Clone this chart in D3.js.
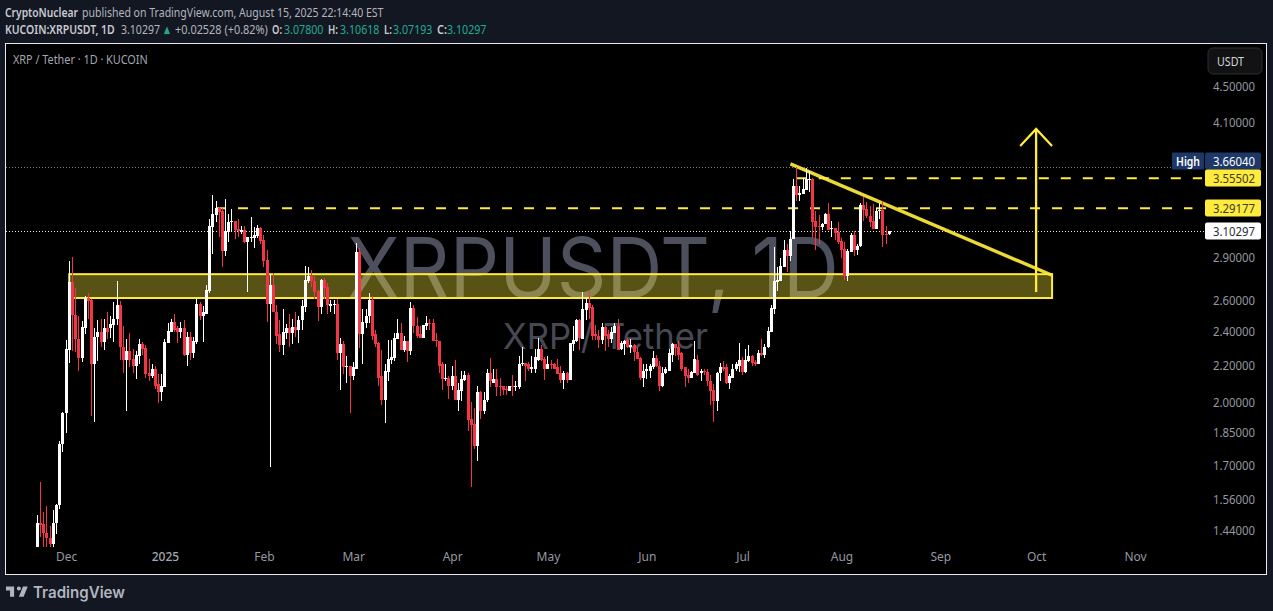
<!DOCTYPE html>
<html><head><meta charset="utf-8">
<script src="https://cdn.jsdelivr.net/npm/d3@7/dist/d3.min.js"></script>
<style>
html,body{margin:0;padding:0;background:#131722;overflow:hidden}
svg{display:block}
text{font-family:"Noto Sans",sans-serif}
</style></head><body>
<svg id="c" width="1273" height="611"></svg>
<script>
const startDay = "2024-11-22";
const endDay = "2025-08-16";
const opens = [
1.381,1.469,1.464,1.431,1.411,1.392,1.467,1.536,1.796,1.945,
2.288,2.722,2.505,2.355,2.240,2.419,2.615,2.599,2.206,2.369,
2.394,2.333,2.419,2.419,2.437,2.475,2.566,2.309,2.233,2.280,
2.238,2.194,2.256,2.321,2.298,2.155,2.138,2.182,2.095,2.052,
2.079,2.327,2.394,2.456,2.419,2.394,2.419,2.262,2.369,2.268,
2.333,2.572,2.494,2.513,2.660,3.136,3.235,3.293,3.268,2.948,
3.096,3.177,3.185,3.120,3.096,3.112,3.017,3.049,3.049,3.064,
3.128,3.033,2.881,2.572,2.701,2.526,2.382,2.315,2.388,2.419,
2.388,2.425,2.406,2.469,2.553,2.729,2.765,2.729,2.660,2.553,
2.736,2.688,2.559,2.566,2.572,2.268,2.321,2.194,2.199,2.138,
2.182,2.940,2.382,2.450,2.494,2.599,2.382,2.327,2.138,2.015,
2.165,2.233,2.244,2.351,2.388,2.286,2.339,2.280,2.546,2.431,
2.382,2.363,2.431,2.450,2.450,2.345,2.339,2.205,2.127,2.132,
2.084,2.138,2.015,2.058,2.121,2.144,1.919,1.895,1.790,2.052,
1.959,2.015,2.160,2.105,2.127,2.084,2.084,2.068,2.058,2.084,
2.079,2.079,2.210,2.216,2.205,2.177,2.182,2.233,2.292,2.238,
2.182,2.210,2.210,2.188,2.155,2.121,2.155,2.121,2.321,2.339,
2.469,2.351,2.533,2.579,2.553,2.382,2.375,2.345,2.425,2.382,
2.351,2.388,2.431,2.292,2.321,2.345,2.309,2.315,2.274,2.244,
2.132,2.171,2.171,2.188,2.244,2.199,2.089,2.155,2.171,2.262,
2.321,2.304,2.268,2.188,2.144,2.132,2.160,2.233,2.155,2.171,
2.165,2.116,2.063,2.010,2.155,2.188,2.188,2.100,2.132,2.177,
2.199,2.233,2.165,2.227,2.256,2.221,2.210,2.268,2.262,2.304,
2.394,2.540,2.722,2.729,2.830,2.955,2.910,3.041,3.485,3.404,
3.413,3.449,3.539,3.548,3.185,3.144,3.136,3.160,3.243,3.120,
3.128,3.096,3.025,2.963,2.765,2.940,3.072,2.955,2.986,3.318,
3.284,3.226,3.185,3.120,3.268,3.276,3.080,3.07800];
const highs = [
1.499,1.632,1.511,1.535,1.457,1.519,1.542,1.813,1.954,2.345,
2.874,2.903,2.683,2.494,2.463,2.626,2.646,2.606,2.419,2.469,
2.481,2.481,2.526,2.500,2.586,2.729,2.592,2.431,2.351,2.388,
2.292,2.280,2.351,2.333,2.315,2.238,2.205,2.199,2.149,2.149,
2.351,2.450,2.481,2.507,2.431,2.456,2.469,2.394,2.394,2.369,
2.606,2.586,2.559,2.701,3.201,3.404,3.352,3.301,3.293,3.369,
3.243,3.284,3.185,3.201,3.144,3.144,3.057,3.218,3.136,3.152,
3.136,3.072,2.955,2.780,2.787,2.566,2.469,2.540,2.444,2.507,
2.475,2.526,2.494,2.599,2.837,2.830,2.808,2.765,2.667,2.743,
2.750,2.715,2.599,2.599,2.606,2.363,2.339,2.256,2.199,2.221,
3.010,2.971,2.540,2.540,2.646,2.626,2.406,2.333,2.286,2.210,
2.345,2.345,2.388,2.475,2.450,2.375,2.339,2.586,2.566,2.488,
2.431,2.437,2.500,2.475,2.481,2.388,2.339,2.221,2.205,2.138,
2.199,2.233,2.105,2.171,2.171,2.160,2.005,1.974,2.089,2.058,
2.052,2.182,2.244,2.177,2.177,2.132,2.089,2.089,2.089,2.144,
2.116,2.256,2.304,2.216,2.221,2.256,2.292,2.357,2.315,2.250,
2.256,2.233,2.216,2.238,2.199,2.171,2.165,2.327,2.431,2.475,
2.481,2.653,2.613,2.653,2.566,2.437,2.406,2.450,2.431,2.406,
2.425,2.450,2.481,2.339,2.345,2.357,2.351,2.321,2.309,2.250,
2.205,2.205,2.205,2.280,2.262,2.227,2.188,2.188,2.292,2.327,
2.321,2.339,2.274,2.188,2.177,2.171,2.339,2.262,2.182,2.182,
2.177,2.144,2.095,2.165,2.216,2.227,2.210,2.149,2.205,2.221,
2.327,2.250,2.292,2.315,2.262,2.233,2.286,2.351,2.321,2.425,
2.566,2.978,2.830,2.896,3.033,3.002,3.104,3.548,3.660,3.485,
3.557,3.650,3.622,3.557,3.268,3.235,3.169,3.251,3.335,3.185,
3.128,3.177,3.049,3.017,2.963,3.088,3.104,3.002,3.335,3.387,
3.344,3.310,3.327,3.293,3.335,3.352,3.144,3.10618];
const lows = [
1.381,1.417,1.381,1.381,1.381,1.381,1.428,1.523,1.763,1.848,
2.212,2.280,2.276,2.171,2.221,2.382,2.481,1.934,1.901,2.227,
2.309,2.286,2.351,2.363,2.333,2.437,2.233,2.155,1.959,2.188,
2.160,2.127,2.210,2.262,2.132,2.111,2.132,2.068,1.996,2.010,
2.079,2.327,2.394,2.394,2.327,2.363,2.256,2.199,2.233,2.244,
2.321,2.469,2.333,2.513,2.646,2.925,3.177,3.057,2.830,2.910,
3.017,3.096,3.041,3.057,3.080,3.010,2.653,3.017,2.971,3.049,
3.002,2.830,2.456,1.696,2.520,2.321,2.274,2.262,2.351,2.309,
2.321,2.369,2.327,2.412,2.526,2.715,2.688,2.606,2.463,2.513,
2.606,2.507,2.520,2.513,2.233,2.063,2.149,2.105,1.949,2.121,
2.182,2.298,2.210,2.419,2.450,2.345,2.304,2.084,1.989,1.899,
2.111,2.210,2.227,2.351,2.286,2.274,2.221,2.262,2.388,2.357,
2.357,2.363,2.412,2.412,2.339,2.304,2.155,2.063,2.111,2.020,
2.063,2.015,1.959,2.010,2.116,1.861,1.611,1.776,1.719,1.919,
1.944,2.000,2.079,2.100,2.031,2.036,2.041,2.041,2.058,2.036,
2.058,2.073,2.199,2.116,2.171,2.160,2.160,2.227,2.227,2.121,
2.182,2.182,2.177,2.149,2.100,2.073,2.105,2.121,2.280,2.333,
2.286,2.351,2.469,2.475,2.345,2.345,2.298,2.321,2.280,2.309,
2.327,2.388,2.286,2.286,2.262,2.298,2.268,2.227,2.238,2.121,
2.079,2.127,2.132,2.182,2.188,2.058,2.079,2.149,2.171,2.221,
2.256,2.233,2.171,2.079,2.105,2.132,2.160,2.138,2.116,2.144,
2.084,1.989,1.904,1.959,2.116,2.171,2.095,2.068,2.132,2.171,
2.165,2.144,2.155,2.221,2.194,2.199,2.205,2.256,2.244,2.298,
2.394,2.513,2.660,2.729,2.830,2.794,2.873,3.041,3.352,3.352,
3.413,3.449,3.431,3.049,2.955,3.002,3.112,3.160,3.112,3.057,
3.033,3.002,2.896,2.736,2.729,2.940,2.910,2.918,2.978,3.185,
3.209,3.136,3.120,3.120,3.201,2.978,3.002,3.07193];
const closes = [
1.469,1.462,1.429,1.411,1.392,1.469,1.539,1.799,1.949,2.292,
2.722,2.503,2.355,2.240,2.425,2.613,2.594,2.206,2.369,2.394,
2.333,2.419,2.394,2.444,2.481,2.566,2.304,2.233,2.280,2.233,
2.194,2.262,2.321,2.292,2.149,2.138,2.182,2.089,2.052,2.084,
2.333,2.400,2.456,2.412,2.394,2.419,2.262,2.369,2.268,2.339,
2.572,2.494,2.520,2.667,3.144,3.243,3.293,3.259,2.948,3.104,
3.177,3.185,3.112,3.104,3.112,3.017,3.057,3.057,3.072,3.128,
3.025,2.873,2.572,2.701,2.520,2.375,2.315,2.394,2.419,2.388,
2.425,2.406,2.469,2.559,2.736,2.765,2.729,2.653,2.553,2.736,
2.681,2.566,2.572,2.572,2.268,2.321,2.188,2.199,2.138,2.188,
2.940,2.382,2.456,2.500,2.599,2.375,2.321,2.132,2.015,2.171,
2.238,2.250,2.357,2.388,2.286,2.339,2.280,2.546,2.431,2.375,
2.363,2.437,2.450,2.444,2.339,2.339,2.199,2.127,2.132,2.084,
2.138,2.015,2.063,2.127,2.144,1.914,1.890,1.790,2.052,1.959,
2.015,2.160,2.111,2.127,2.079,2.079,2.063,2.063,2.084,2.079,
2.084,2.210,2.216,2.199,2.177,2.188,2.250,2.292,2.233,2.182,
2.210,2.205,2.182,2.149,2.121,2.155,2.121,2.327,2.345,2.469,
2.357,2.540,2.579,2.546,2.375,2.375,2.345,2.425,2.375,2.351,
2.394,2.431,2.286,2.327,2.339,2.304,2.315,2.274,2.238,2.132,
2.171,2.177,2.194,2.244,2.194,2.089,2.160,2.177,2.268,2.321,
2.298,2.262,2.182,2.138,2.132,2.165,2.238,2.144,2.171,2.165,
2.111,2.058,2.010,2.160,2.188,2.182,2.100,2.138,2.182,2.205,
2.233,2.165,2.233,2.256,2.216,2.210,2.268,2.262,2.309,2.400,
2.546,2.729,2.736,2.837,2.955,2.910,3.041,3.485,3.404,3.422,
3.458,3.548,3.548,3.177,3.136,3.136,3.160,3.243,3.112,3.128,
3.088,3.017,2.955,2.765,2.948,3.072,2.955,2.986,3.318,3.276,
3.226,3.177,3.120,3.268,3.276,3.072,3.078,3.10297];

const priceTicks = [4.5,4.1,2.9,2.6,2.4,2.2,2.0,1.85,1.7,1.56,1.44];
const monthTicks = ["2024-12-01","2025-01-01","2025-02-01","2025-03-01","2025-04-01","2025-05-01","2025-06-01","2025-07-01","2025-08-01","2025-09-01","2025-10-01","2025-11-01"];
const highPrice = 3.6604, lastPrice = 3.10297;
const resistanceHigh = {price:3.55502, from:"2025-07-18", to:"2025-11-22"};
const resistanceLow = {price:3.29177, from:"2025-01-17", to:"2025-11-19"};
const zone = {top:2.780, bottom:2.615, from:"2024-12-02", to:"2025-10-06"};
const trend = {from:["2025-07-16",3.690], to:["2025-10-06",2.772]};
const arrowShaft = [["2025-10-01",2.655],["2025-10-01",4.035]];
const arrowHead = [["2025-09-26",3.863],["2025-10-01",4.035],["2025-10-06",3.863]];

const svg = d3.select("#c");
const parse = d3.utcParse("%Y-%m-%d");
const x = d3.scaleUtc().domain([parse(startDay),parse(endDay)]).range([37.33,889.33]);
const y = d3.scaleLog().domain([4.5,1.44]).range([86.5,530.5]);
const days = d3.utcDay.range(parse(startDay), d3.utcDay.offset(parse(endDay),1));
const candles = days.map((d,i)=>({d,o:opens[i],h:highs[i],l:lows[i],c:closes[i]}));
const YEL="#ffeb3b", UP="#ffffff", DOWN="#f23645";

svg.append("rect").attr("width",1273).attr("height",611).attr("fill","#131722");
svg.append("rect").attr("x",5.5).attr("y",43.5).attr("width",1261).attr("height",531).attr("fill","#000").attr("stroke","#e8e9ec").attr("stroke-width",1);

// watermark
svg.append("text").attr("x",593).attr("y",298).attr("text-anchor","middle").attr("font-size",84).attr("fill","#4d505c").attr("textLength",492).attr("lengthAdjust","spacingAndGlyphs").style("font-family","Inter").text("XRPUSDT, 1D");
svg.append("text").attr("x",605.5).attr("y",349).attr("text-anchor","middle").attr("font-size",36).attr("fill","#464953").attr("textLength",205).attr("lengthAdjust","spacingAndGlyphs").style("font-family","Inter").text("XRP / Tether");

// drawings below the candles
const line2 = d3.line().x(p=>x(parse(p[0]))).y(p=>y(p[1]));
svg.append("rect").attr("x",x(parse(zone.from))).attr("y",y(zone.top)).attr("width",x(parse(zone.to))-x(parse(zone.from))).attr("height",y(zone.bottom)-y(zone.top))
  .attr("fill",YEL).attr("fill-opacity",.35).attr("stroke",YEL).attr("stroke-width",2);
svg.append("line").attr("x1",6).attr("x2",1172).attr("y1",Math.round(y(highPrice))+.5).attr("y2",Math.round(y(highPrice))+.5).attr("stroke","#787b86").attr("stroke-dasharray","1 2");
svg.append("line").attr("x1",6).attr("x2",1205).attr("y1",Math.floor(y(lastPrice))+.5).attr("y2",Math.floor(y(lastPrice))+.5).attr("stroke","#e6e6e6").attr("stroke-dasharray","1 2");
[resistanceHigh,resistanceLow].forEach(r=>{
  svg.append("line").attr("x1",x(parse(r.from))).attr("x2",x(parse(r.to))).attr("y1",y(r.price)).attr("y2",y(r.price)).attr("stroke",YEL).attr("stroke-width",2).attr("stroke-dasharray","10 12");
});
svg.append("path").attr("d",line2([trend.from,trend.to])).attr("fill","none").attr("stroke",YEL).attr("stroke-opacity",.92).attr("stroke-width",3.4);
svg.append("path").attr("d",line2(arrowShaft)).attr("fill","none").attr("stroke",YEL).attr("stroke-width",2.3);
svg.append("path").attr("d",line2(arrowHead)).attr("fill","none").attr("stroke",YEL).attr("stroke-width",2.3);

// candles
const g = svg.append("g").attr("shape-rendering","crispEdges");
const col = d=>d.c>=d.o?UP:DOWN;
g.selectAll("rect.w").data(candles).join("rect").attr("class","w")
  .attr("x",d=>Math.floor(x(d.d))).attr("width",1)
  .attr("y",d=>y(d.h)).attr("height",d=>Math.max(1,y(d.l)-y(d.h))).attr("fill",col);
g.selectAll("rect.b").data(candles).join("rect").attr("class","b")
  .attr("x",d=>Math.floor(x(d.d))-1).attr("width",3)
  .attr("y",d=>y(Math.max(d.o,d.c))).attr("height",d=>Math.max(1,Math.abs(y(d.o)-y(d.c)))).attr("fill",col);

// axes
const ax = d3.axisRight(y).tickValues(priceTicks).tickSize(0).tickPadding(0).tickFormat(d3.format(".5f"));
const ag = svg.append("g").attr("transform","translate(1213,0)").call(ax);
ag.select(".domain").remove();
ag.selectAll("text").attr("fill","#9598a1").attr("font-size",12).attr("textLength",42).attr("lengthAdjust","spacingAndGlyphs").style("font-family","Noto Sans");
const bx = d3.axisBottom(x).tickValues(monthTicks.map(parse)).tickSize(0).tickPadding(0)
  .tickFormat(d=>d.getUTCMonth()===0?String(d.getUTCFullYear()):d3.utcFormat("%b")(d));
const bg = svg.append("g").attr("transform","translate(0,552)").call(bx);
bg.select(".domain").remove();
bg.selectAll("text").attr("fill","#9598a1").attr("font-size",12).style("font-family","Noto Sans");
bg.selectAll(".tick").filter(d=>d.getUTCMonth()===0).select("text").attr("font-weight",500).attr("fill","#a3a6af");

// price tags
const tagData = [
 {v:highPrice,t:"3.66040",dy:-5.5,bg:"#1c3768",fg:"#fff"},
 {v:resistanceHigh.price,t:"3.55502",dy:0,bg:YEL,fg:"#3a3a2a"},
 {v:resistanceLow.price,t:"3.29177",dy:0,bg:YEL,fg:"#3a3a2a"},
 {v:lastPrice,t:"3.10297",dy:0,bg:"#fff",fg:"#2a2e39"}];
const tags = svg.selectAll("g.tag").data(tagData).join("g").attr("class","tag")
  .attr("transform",d=>`translate(1205,${Math.round(y(d.v)+d.dy)})`);
tags.append("rect").attr("x",0).attr("y",-8.5).attr("width",56).attr("height",17).attr("rx",2).attr("fill",d=>d.bg);
tags.append("text").attr("x",8).attr("y",4.5).attr("font-size",12).attr("fill",d=>d.fg).attr("textLength",42).attr("lengthAdjust","spacingAndGlyphs").text(d=>d.t);
const hy = Math.round(y(highPrice)-5.5);
svg.append("rect").attr("x",1172).attr("y",hy-8.5).attr("width",32).attr("height",17).attr("rx",1).attr("fill","#1c3768");
svg.append("text").attr("x",1176).attr("y",hy+4.5).attr("font-size",12).attr("font-weight",600).attr("fill","#fff").attr("textLength",24).attr("lengthAdjust","spacingAndGlyphs").text("High");

// currency button
svg.append("rect").attr("x",1208).attr("y",48).attr("width",54).attr("height",26).attr("rx",5).attr("fill","#121212").attr("stroke","#2a2e39");
svg.append("text").attr("x",1217).attr("y",65.5).attr("font-size",12).attr("fill","#d1d4dc").attr("textLength",27).attr("lengthAdjust","spacingAndGlyphs").text("USDT");

// header: each run is squeezed horizontally to the width seen in the reference
const hdr = (xp,yp,t,len,o={})=>{
  const s=svg.append("text").attr("font-size",o.fs||12.5).attr("font-weight",o.w||400).attr("fill",o.c||"#b2b5be").text(t);
  const k = len ? len/s.node().getComputedTextLength() : 1;
  s.attr("transform",`translate(${xp},${yp}) scale(${k},1)`);
  return s;
};
hdr(5,17,"CryptoNuclear",73,{w:600,c:"#c8cad2"});
hdr(82,17,"published on TradingView.com, August 15, 2025 22:14:40 EST",302);
hdr(5,34,"KUCOIN:XRPUSDT, 1D",110,{w:600,c:"#c8cad2"});
hdr(121,34,"3.10297",39);
hdr(162,34,"▲",10,{c:"#22ab94",fs:13});
hdr(175,34,"+0.02528 (+0.82%)",93);
const ohlcLabels = [["O:",272,"3.07800",284],["H:",328,"3.10618",340],["L:",384,"3.07193",393],["C:",437,"3.10297",447]];
ohlcLabels.forEach(r=>{hdr(r[1],34,r[0],r[0]==="L:"?8:10,{w:600,c:"#c8cad2"});hdr(r[3],34,r[2],39.5,{c:"#22ab94"});});
hdr(13,64,"XRP / Tether · 1D · KUCOIN",135,{c:"#a3a6af"});

// footer logo
svg.append("path").attr("d","M14 6H2v6h6v9h6V6zm14 15h-7l6-15h7l-6 15zm-7-9a3 3 0 1 0 0-6 3 3 0 0 0 0 6z").attr("fill","#b2b5be").attr("transform","translate(4.6,582.4) scale(.68)");
svg.append("text").attr("x",33).attr("y",598).attr("font-size",16).attr("font-weight",600).attr("fill","#b2b5be").attr("textLength",92).attr("lengthAdjust","spacingAndGlyphs").style("font-family","Inter").text("TradingView");
</script>
</body></html>
